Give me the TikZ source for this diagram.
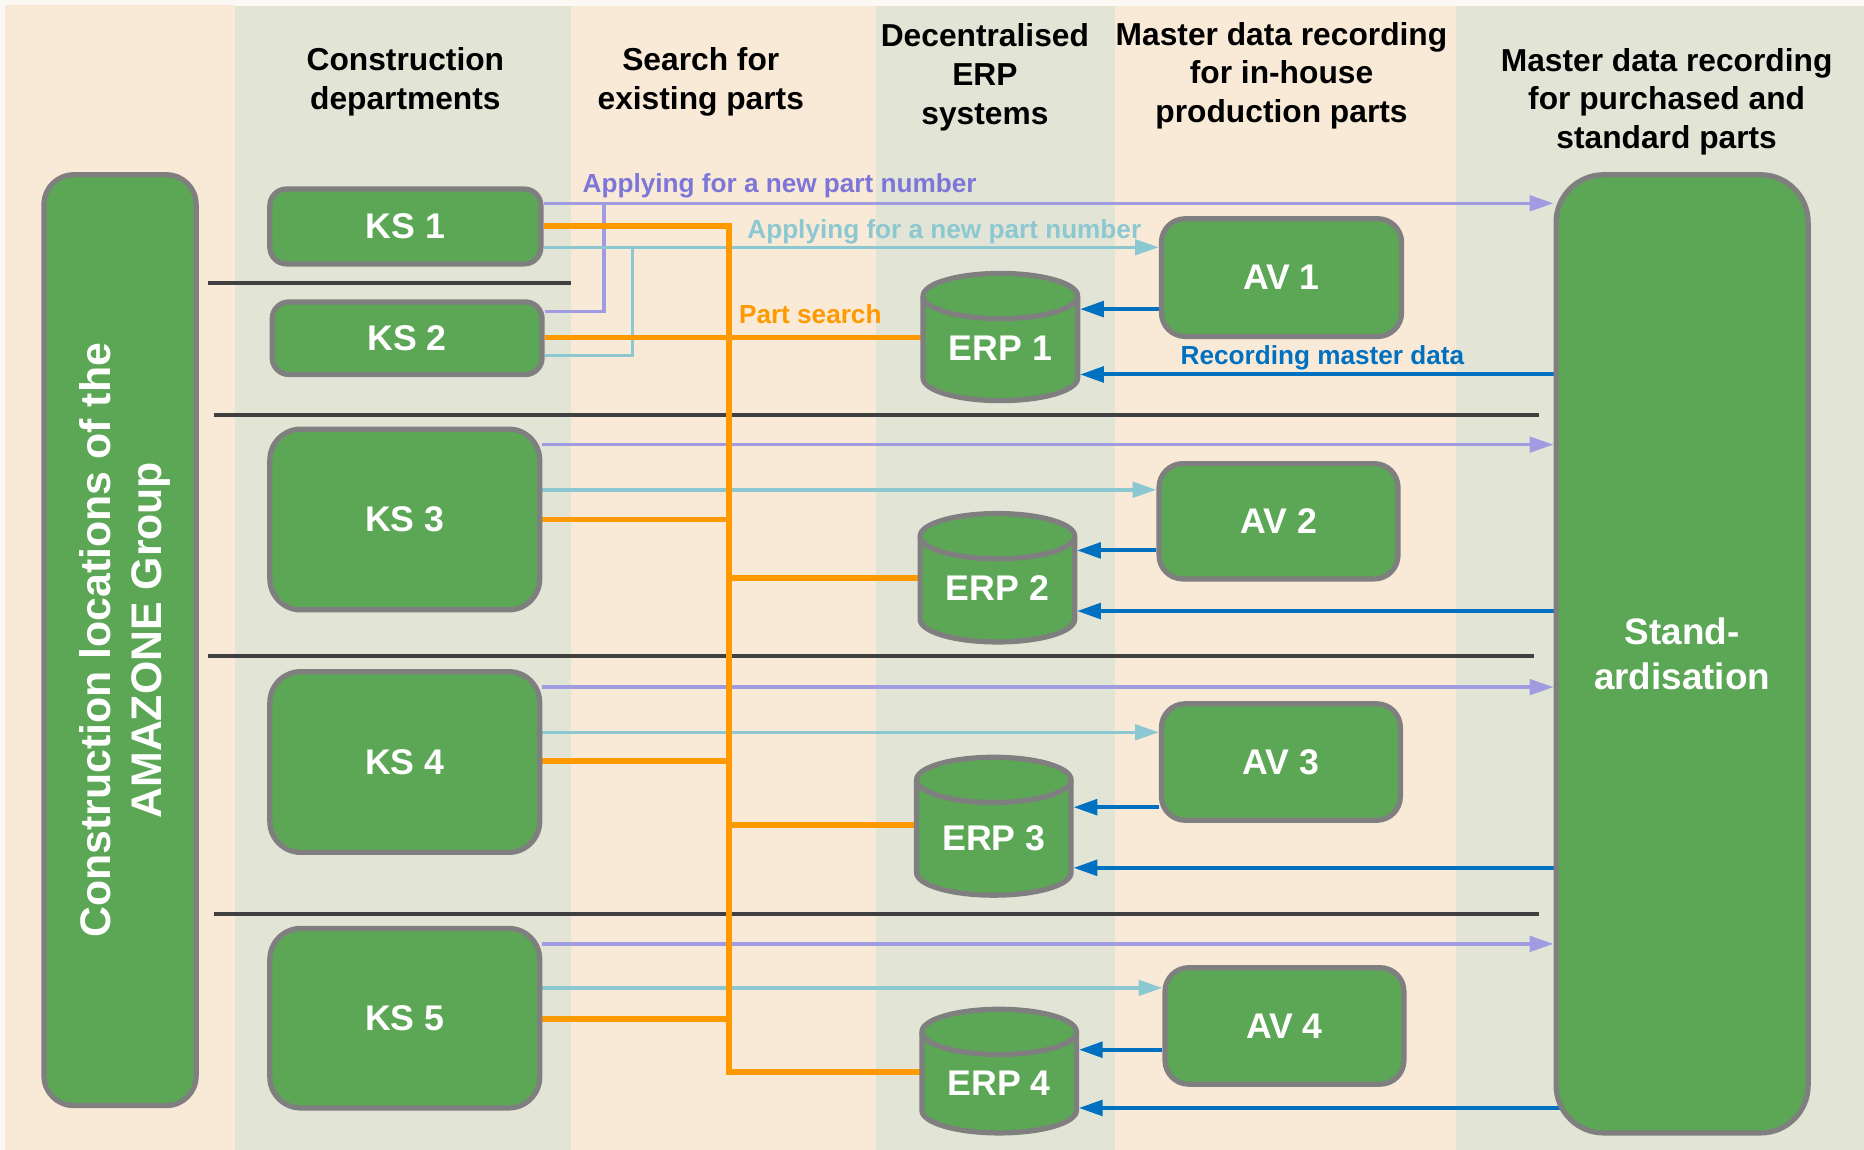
\documentclass[tikz,border=0pt]{standalone}
\usepackage{fontspec}
\setmainfont{Liberation Sans}
\usetikzlibrary{arrows.meta}
\definecolor{peach}{HTML}{F9EAD8}
\definecolor{sage}{HTML}{E2E5D5}
\definecolor{paper}{HTML}{FCF9F5}
\definecolor{boxgreen}{HTML}{5CA755}
\definecolor{boxgray}{HTML}{7F7F7F}
\definecolor{purl}{HTML}{A19CE1}
\definecolor{purt}{HTML}{7D76D8}
\definecolor{tealc}{HTML}{8CC8D1}
\definecolor{orng}{HTML}{FF9900}
\definecolor{blu}{HTML}{0070C0}
\definecolor{rulegray}{HTML}{404040}
\pgfdeclarelayer{bg}
\pgfdeclarelayer{mid}
\pgfsetlayers{bg,mid,main}
\newcommand{\cylpath}[3]{%
  \path[cyl] (#1-65,#2+21) -- (#1-65,#3-21)
     arc[start angle=180,end angle=360,x radius=65pt,y radius=19pt]
     -- (#1+65,#2+21)
     arc[start angle=0,end angle=180,x radius=65pt,y radius=19pt] -- cycle;
  \draw[draw=boxgray,line width=4.4pt] (#1-65,#2+21)
     arc[start angle=180,end angle=360,x radius=65pt,y radius=19pt];
}
\begin{document}
\begin{tikzpicture}[x=1pt,y=-1pt,
  box/.style={draw=boxgray, fill=boxgreen, line width=4.4pt, text=white,
    font=\bfseries\fontsize{30}{36}\selectfont, inner sep=0pt, align=center},
  cyl/.style={draw=boxgray, fill=boxgreen, line width=4.4pt},
  erplabel/.style={text=white, font=\bfseries\fontsize{30}{36}\selectfont,
    inner sep=0pt, outer sep=0pt, minimum width=134pt},
  head/.style={font=\bfseries\fontsize{26.7}{32.5}\selectfont, align=center, text=black},
  lab/.style={font=\bfseries\fontsize{22}{26}\selectfont, inner sep=0pt, anchor=west},
  pline/.style={draw=purl, line width=2.9pt},
  tline/.style={draw=tealc, line width=2.9pt},
  oline/.style={draw=orng, line width=4.8pt},
  bline/.style={draw=blu, line width=3.4pt},
  arrowhd/.style={-{Triangle[length=20pt,width=13pt]}},
  seprule/.style={draw=rulegray, line width=3.6pt}
]
\useasboundingbox (0,0) rectangle (1568,967);
\begin{pgfonlayer}{bg}
\fill[paper] (0,0) rectangle (1568,967);
\fill[peach] (4,4) rectangle (198,967);
\fill[sage] (198,5) rectangle (480,967);
\fill[peach] (480,5) rectangle (737,967);
\fill[sage] (737,5) rectangle (938,967);
\fill[peach] (938,5) rectangle (1225,967);
\fill[sage] (1225,5) rectangle (1568,967);
\end{pgfonlayer}

% headers
\node[head] (h1) at (341,69) {Construction\\departments};
\node[head] (h2) at (589.5,69) {Search for\\existing parts};
\node[head] (h3) at (828.5,65) {Decentralised\\ERP\\systems};
\node[head] (h4) at (1078,63.5) {Master data recording\\for in-house\\production parts};
\node[head] (h5) at (1402,85.5) {Master data recording\\for purchased and\\standard parts};

% boxes
\node[box, rounded corners=25pt, minimum width=783pt, minimum height=128pt, rotate=90] (LOC) at (101,538.5) {};
\node[rotate=90, text=white, align=center, inner sep=0pt,
  font=\bfseries\fontsize{36}{43}\selectfont] (LOCtext) at (105,538.5)
  {Construction locations of the\\AMAZONE Group};
\node[box, rounded corners=14pt, minimum width=228pt, minimum height=63pt] (KS1) at (341,190.5) {KS 1};
\node[box, rounded corners=14pt, minimum width=227pt, minimum height=61pt] (KS2) at (342.5,284.5) {KS 2};
\node[box, rounded corners=26pt, minimum width=227pt, minimum height=152pt] (KS3) at (340.5,437) {KS 3};
\node[box, rounded corners=26pt, minimum width=227pt, minimum height=152pt] (KS4) at (340.5,641) {KS 4};
\node[box, rounded corners=26pt, minimum width=227pt, minimum height=151pt] (KS5) at (340.5,856.5) {KS 5};
\node[box, rounded corners=20pt, minimum width=202pt, minimum height=99pt] (AV1) at (1078,233.5) {AV 1};
\node[box, rounded corners=20pt, minimum width=201pt, minimum height=97pt] (AV2) at (1075.5,438.5) {AV 2};
\node[box, rounded corners=20pt, minimum width=201pt, minimum height=98pt] (AV3) at (1077.5,641) {AV 3};
\node[box, rounded corners=20pt, minimum width=201pt, minimum height=98pt] (AV4) at (1080.5,863) {AV 4};
\node[box, rounded corners=40pt, minimum width=212pt, minimum height=806pt,
  font=\bfseries\fontsize{31}{38}\selectfont] (STD) at (1415,550) {Stand-\\ardisation};

% ERP cylinders
\cylpath{841.5}{228}{339}
\cylpath{839}{430}{542}
\cylpath{836}{635}{755}
\cylpath{840.5}{847}{955}
\node[erplabel] (ERP1) at (841.5,293) {ERP 1};
\node[erplabel] (ERP2) at (839,495) {ERP 2};
\node[erplabel] (ERP3) at (836,705) {ERP 3};
\node[erplabel] (ERP4) at (840.5,911) {ERP 4};

% labels
\node[lab, text=purt] (lp) at (490,156) {Applying for a new part number};
\node[lab, text=tealc] (lt) at (628.5,195) {Applying for a new part number};
\node[lab, text=orng] (lo) at (621.5,264) {Part search};
\node[lab, text=blu] (lb) at (993,300.7) {Recording master data};

\begin{pgfonlayer}{mid}
% separators
\draw[seprule] (175,238) -- (480,238);
\draw[seprule] (180,349) -- (1295,349);
\draw[seprule] (175,552) -- (1290,552);
\draw[seprule] (180,769) -- (1295,769);
% purple
\draw[pline,arrowhd] (KS1.east |- 0,171) -- (STD.west |- 0,171);
\coordinate (pj) at (508,171);
\draw[pline] (KS2.east |- 0,262) -| (pj);
\draw[pline,arrowhd] (KS3.east |- 0,374) -- (STD.west |- 0,374);
\draw[pline,arrowhd] (KS4.east |- 0,578) -- (STD.west |- 0,578);
\draw[pline,arrowhd] (KS5.east |- 0,794) -- (STD.west |- 0,794);
% teal
\draw[tline,arrowhd] (KS1.east |- 0,208) -- (AV1.west |- 0,208);
\coordinate (tj) at (532,208);
\draw[tline] (KS2.east |- 0,299) -| (tj);
\draw[tline,arrowhd] (KS3.east |- 0,412) -- (AV2.west |- 0,412);
\draw[tline,arrowhd] (KS4.east |- 0,616) -- (AV3.west |- 0,616);
\draw[tline,arrowhd] (KS5.east |- 0,831) -- (AV4.west |- 0,831);
% orange
\coordinate (trunk) at (613,190);
\draw[oline] (KS1.east |- trunk) -- (trunk) -- (trunk |- 0,902) -- (ERP4.west |- 0,902);
\draw[oline] (KS2.east |- 0,284) -- (ERP1.west |- 0,284);
\draw[oline] (KS3.east |- 0,437) -- (trunk |- 0,437);
\draw[oline] (trunk |- 0,486) -- (ERP2.west |- 0,486);
\draw[oline] (KS4.east |- 0,640) -- (trunk |- 0,640);
\draw[oline] (trunk |- 0,694) -- (ERP3.west |- 0,694);
\draw[oline] (KS5.east |- 0,857) -- (trunk |- 0,857);
% blue
\draw[bline,arrowhd] (AV1.west |- 0,260) -- (ERP1.east |- 0,260);
\draw[bline,arrowhd] (STD.center |- 0,315) -- (ERP1.east |- 0,315);
\draw[bline,arrowhd] (AV2.west |- 0,463) -- (ERP2.east |- 0,463);
\draw[bline,arrowhd] (STD.center |- 0,514) -- (ERP2.east |- 0,514);
\draw[bline,arrowhd] (AV3.west |- 0,679) -- (ERP3.east |- 0,679);
\draw[bline,arrowhd] (STD.center |- 0,730) -- (ERP3.east |- 0,730);
\draw[bline,arrowhd] (AV4.west |- 0,883) -- (ERP4.east |- 0,883);
\draw[bline,arrowhd] (STD.center |- 0,932) -- (ERP4.east |- 0,932);
\end{pgfonlayer}
\end{tikzpicture}
\end{document}
